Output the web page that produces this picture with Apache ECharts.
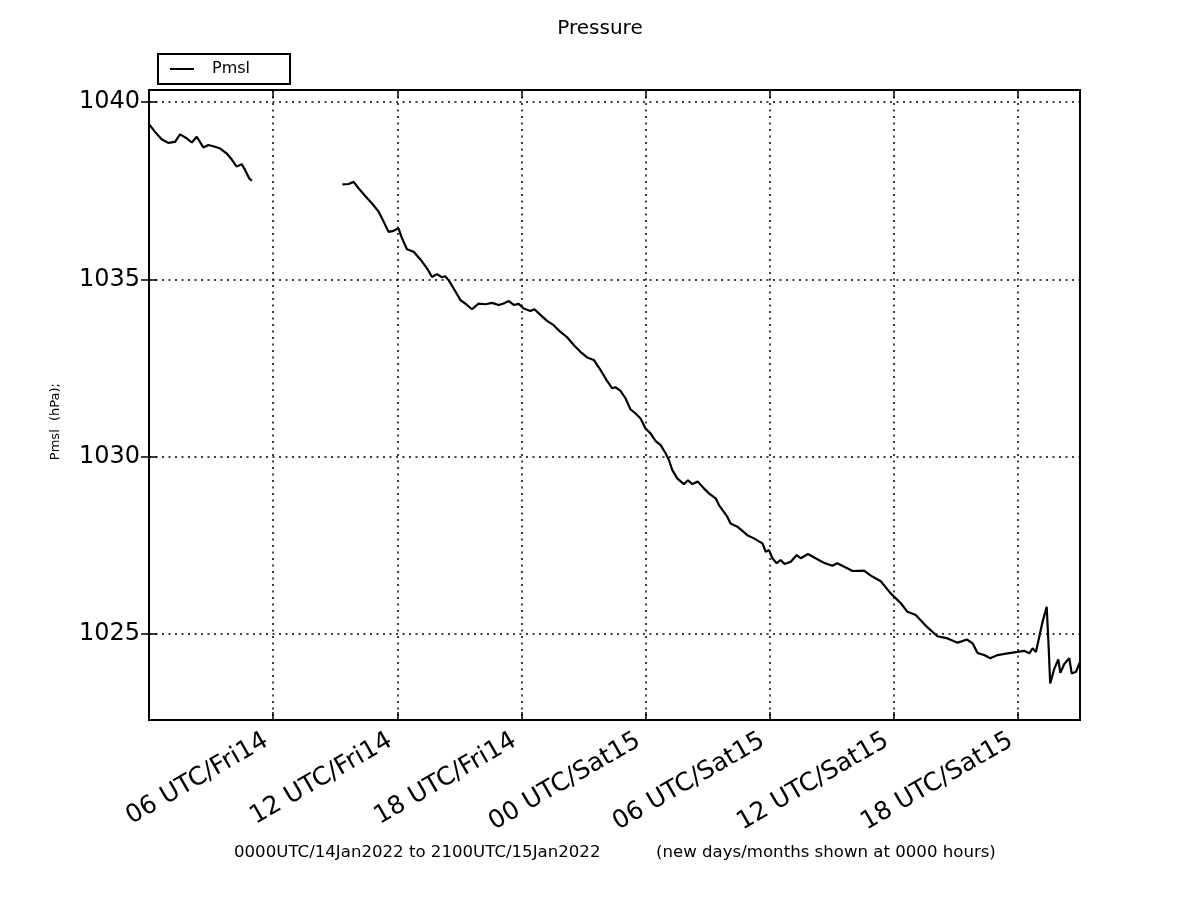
<!DOCTYPE html>
<html>
<head>
<meta charset="utf-8">
<script src="https://cdn.jsdelivr.net/npm/echarts@6/dist/echarts.min.js"></script>
<style>html,body{margin:0;padding:0;background:#fff;}#chart{width:1200px;height:900px;}</style>
</head>
<body>
<div id="chart"></div>
<script>
// Hours since 0000UTC/14Jan2022 (null marks the data gap)
const hours = [
  0.0, 0.29, 0.61, 0.93, 1.26, 1.5, 1.82, 2.07, 2.31, 2.63, 2.87, 3.19, 3.44, 3.76, 4.0, 4.24, 4.48, 4.65, 4.84, 4.97,
  7.0,
  9.35, 9.65, 9.89, 10.13, 10.45, 10.78, 11.1, 11.34, 11.58, 11.82, 12.06, 12.23, 12.47, 12.79, 13.11, 13.44, 13.68, 13.92, 14.16, 14.32, 14.48, 14.72,
  15.05, 15.37, 15.61, 15.93, 16.26, 16.58, 16.9, 17.14, 17.39, 17.63, 17.87, 18.11, 18.43, 18.63, 18.92, 19.24, 19.56, 19.89, 20.21, 20.53, 20.85,
  21.18, 21.5, 21.82, 22.15, 22.39, 22.55, 22.79, 23.03, 23.27, 23.52, 23.76, 24.0, 24.24, 24.48, 24.73, 24.97, 25.13, 25.29, 25.53, 25.85, 26.05,
  26.26, 26.53, 26.82, 27.06, 27.39, 27.55, 27.95, 28.11, 28.44, 28.92, 29.24, 29.65, 29.81, 29.97, 30.13, 30.34, 30.53, 30.72, 31.02, 31.31, 31.5,
  31.85, 32.22, 32.63, 33.03, 33.27, 33.68, 34.0, 34.56, 34.89, 35.37, 35.85, 36.34, 36.66, 37.06, 37.63, 38.11, 38.6, 39.08, 39.24, 39.53, 39.81,
  40.05, 40.37, 40.66, 41.02, 41.5, 41.98, 42.3, 42.55, 42.71, 42.87, 43.19, 43.27, 43.39, 43.47, 43.56, 43.63, 43.76, 43.95, 44.05, 44.24, 44.48,
  44.6, 44.81, 45.0
];
const pmsl = [
  1039.38, 1039.16, 1038.95, 1038.85, 1038.88, 1039.09, 1038.98, 1038.86, 1039.02, 1038.72, 1038.79, 1038.74, 1038.69, 1038.55, 1038.38, 1038.18, 1038.25, 1038.08, 1037.85, 1037.78,
  null,
  1037.68, 1037.69, 1037.75, 1037.57, 1037.35, 1037.14, 1036.91, 1036.63, 1036.34, 1036.37, 1036.44, 1036.16, 1035.85, 1035.78, 1035.57, 1035.31, 1035.07, 1035.15, 1035.06, 1035.09, 1034.98, 1034.75,
  1034.42, 1034.28, 1034.16, 1034.32, 1034.30, 1034.34, 1034.28, 1034.32, 1034.39, 1034.28, 1034.31, 1034.18, 1034.11, 1034.16, 1034.00, 1033.83, 1033.71, 1033.52, 1033.37, 1033.15, 1032.96,
  1032.80, 1032.73, 1032.45, 1032.13, 1031.93, 1031.96, 1031.86, 1031.65, 1031.34, 1031.22, 1031.08, 1030.80, 1030.66, 1030.45, 1030.33, 1030.10, 1029.91, 1029.63, 1029.39, 1029.23, 1029.34,
  1029.23, 1029.30, 1029.11, 1028.97, 1028.83, 1028.64, 1028.31, 1028.12, 1028.03, 1027.79, 1027.70, 1027.56, 1027.32, 1027.37, 1027.14, 1027.00, 1027.09, 1026.98, 1027.04, 1027.23, 1027.14,
  1027.26, 1027.14, 1027.01, 1026.93, 1027.00, 1026.88, 1026.78, 1026.79, 1026.65, 1026.49, 1026.15, 1025.87, 1025.63, 1025.54, 1025.19, 1024.94, 1024.88, 1024.76, 1024.79, 1024.85, 1024.74,
  1024.47, 1024.41, 1024.32, 1024.41, 1024.46, 1024.50, 1024.53, 1024.46, 1024.60, 1024.50, 1025.35, 1025.40, 1025.77, 1024.83, 1023.61, 1023.59, 1024.03, 1024.29, 1023.91, 1024.16, 1024.32,
  1023.89, 1023.94, 1024.22
];
const tickHours = [6, 12, 18, 24, 30, 36, 42];
const tickLabels = ['06 UTC/Fri14', '12 UTC/Fri14', '18 UTC/Fri14', '00 UTC/Sat15', '06 UTC/Sat15', '12 UTC/Sat15', '18 UTC/Sat15'];
const yTicks = [1025, 1030, 1035, 1040];
const xRange = [0, 45];
const yRange = [1022.58, 1040.34];

const FONT = 'DejaVu Sans';
const seriesData = hours.map((h, i) => [h, pmsl[i]]);

const chart = echarts.init(document.getElementById('chart'), null, {renderer: 'canvas'});
const dotted = {color: '#000', width: 1.5, type: [2, 4.5]};
const tick = {show: true, inside: true, length: 8, lineStyle: {color: '#000', width: 1.5}};

chart.setOption({
  backgroundColor: '#fff',
  animation: false,
  title: {
    text: 'Pressure', left: 'center', top: 14,
    textStyle: {fontFamily: FONT, fontSize: 20, fontWeight: 'normal', color: '#000'}
  },
  legend: {
    data: ['Pmsl'], left: 158, top: 54, orient: 'horizontal',
    borderColor: '#000', borderWidth: 2, borderRadius: 0,
    padding: [7, 40, 7, 12],
    icon: 'rect', itemWidth: 24, itemHeight: 2,
    textStyle: {fontFamily: FONT, fontSize: 16, color: '#000', padding: [0, 0, 0, 13]}
  },
  grid: {left: 149, right: 120, top: 90, bottom: 180, show: true, borderColor: '#000', borderWidth: 2, containLabel: false},
  xAxis: [{
    type: 'value', min: xRange[0], max: xRange[1], interval: 6,
    axisLine: {show: false},
    axisTick: tick,
    splitLine: {show: true, lineStyle: dotted},
    axisLabel: {
      rotate: 30, margin: 15, padding: [0, 8, 0, 0], fontFamily: FONT, fontSize: 25, color: '#000',
      showMinLabel: false, showMaxLabel: false,
      formatter: v => { const i = tickHours.indexOf(v); return i >= 0 ? tickLabels[i] : ''; }
    }
  }, {
    type: 'value', position: 'top', min: xRange[0], max: xRange[1], interval: 6,
    axisLine: {show: false}, axisTick: tick, axisLabel: {show: false}, splitLine: {show: false}
  }],
  yAxis: [{
    type: 'value', min: yRange[0], max: yRange[1], splitNumber: 4,
    axisLine: {show: false},
    axisTick: {show: true, inside: true, length: 8, lineStyle: {color: '#000', width: 1.5}, customValues: yTicks},
    splitLine: {show: true, lineStyle: dotted},
    axisLabel: {
      margin: 9, fontFamily: FONT, fontSize: 24, color: '#000',
      customValues: yTicks,
      formatter: v => (yTicks.indexOf(Math.round(v * 100) / 100) >= 0 ? String(Math.round(v)) : '')
    }
  }, {
    type: 'value', position: 'right', min: yRange[0], max: yRange[1], splitNumber: 4,
    axisLine: {show: false},
    axisTick: {show: true, inside: true, length: 8, lineStyle: {color: '#000', width: 1.5}, customValues: yTicks},
    axisLabel: {show: false}, splitLine: {show: false}
  }],
  series: [{
    name: 'Pmsl', type: 'line', xAxisIndex: 0, yAxisIndex: 0,
    data: seriesData, showSymbol: false, connectNulls: false,
    lineStyle: {color: '#000', width: 2.2}, itemStyle: {color: '#000'}
  }],
  graphic: [
    {type: 'text', left: 49, top: 383, rotation: Math.PI / 2,
     style: {text: 'Pmsl  (hPa);', font: '13px "DejaVu Sans"', fill: '#000'}},
    {type: 'text', left: 234, top: 844,
     style: {text: '0000UTC/14Jan2022 to 2100UTC/15Jan2022', font: '16.6px "DejaVu Sans"', fill: '#000'}},
    {type: 'text', left: 656, top: 844,
     style: {text: '(new days/months shown at 0000 hours)', font: '16.6px "DejaVu Sans"', fill: '#000'}}
  ]
});
</script>
</body>
</html>
